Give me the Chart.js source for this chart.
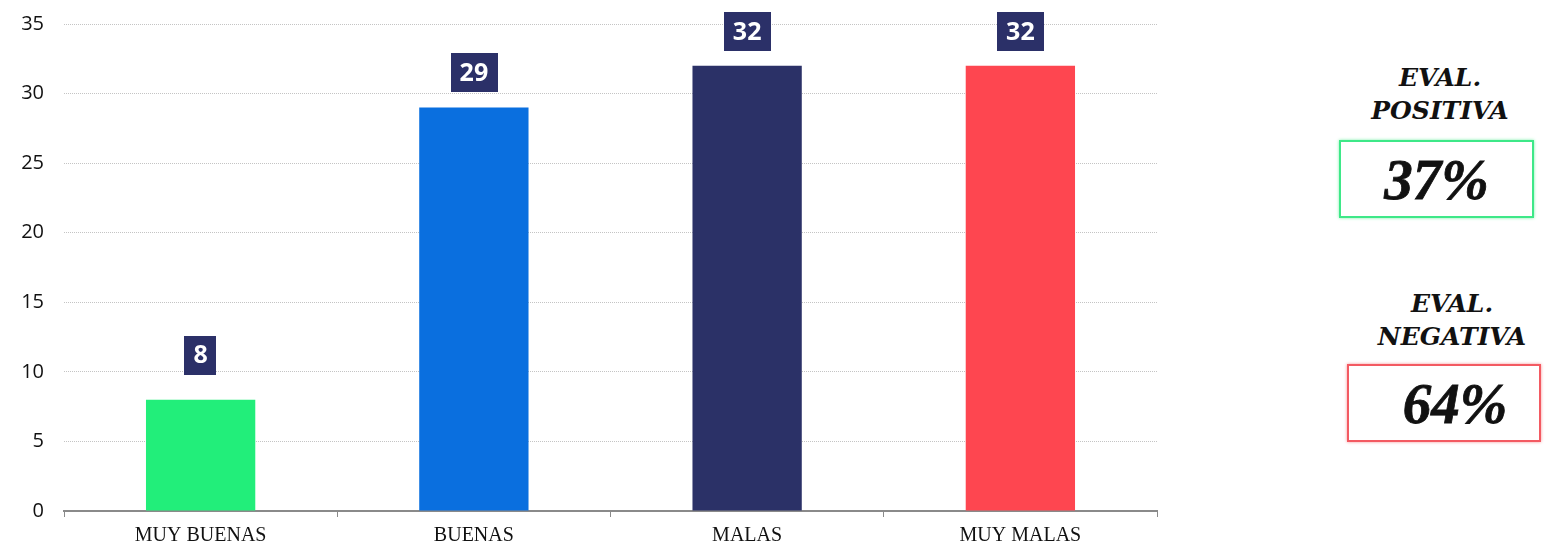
<!DOCTYPE html>
<html>
<head>
<meta charset="utf-8">
<script src="https://cdn.jsdelivr.net/npm/chart.js@4/dist/chart.umd.min.js"></script>
<style>
  html, body { margin: 0; padding: 0; background: #fff; width: 1548px; height: 545px; overflow: hidden; }
  #wrap { position: absolute; left: 0; top: 0; width: 1175px; height: 545px; }
  .ttl { position: absolute; font-family: "DejaVu Serif", serif; font-weight: bold; font-style: italic;
         font-size: 25px; line-height: 33px; text-align: center; color: #111; }
  .box { position: absolute; box-sizing: border-box; background: #fff; text-align: center;
         font-family: "Liberation Serif", serif; font-weight: bold; font-style: italic; font-size: 57px; color: #111;
         -webkit-text-stroke: 0.8px #111; }
  #pos-t { left: 1340px; top: 61px; width: 200px; }
  #pos-b { left: 1339px; top: 140px; width: 195px; height: 78px; border: 2px solid #3ee888; box-shadow: 0 0 3px #7ff0aa; line-height: 76px; }
  #neg-t { left: 1352px; top: 287px; width: 200px; }
  #neg-b { left: 1347px; top: 364px; width: 194px; height: 78px; border: 2px solid #f35a62; box-shadow: 0 0 3px #f7959a; line-height: 76px; padding-left: 22px; }
</style>
</head>
<body>
<div id="wrap"><canvas id="c"></canvas></div>
<div class="ttl" id="pos-t">EVAL.<br>POSITIVA</div>
<div class="box" id="pos-b"><span id="pos-v"></span></div>
<div class="ttl" id="neg-t">EVAL.<br>NEGATIVA</div>
<div class="box" id="neg-b"><span id="neg-v"></span></div>
<script>
const categories = ["MUY BUENAS", "BUENAS", "MALAS", "MUY MALAS"];
const values = [8, 29, 32, 32];
const barColors = ["#22ee7a", "#0a6fdf", "#2b3167", "#fe4650"];
const yTicks = [0, 5, 10, 15, 20, 25, 30, 35];
const summaryLabels = ["37%", "64%"];

document.getElementById("pos-v").textContent = summaryLabels[0];
document.getElementById("neg-v").textContent = summaryLabels[1];

const valueBoxes = {
  id: "valueBoxes",
  afterDatasetsDraw(chart) {
    const ctx = chart.ctx;
    const meta = chart.getDatasetMeta(0);
    ctx.save();
    ctx.font = "bold 25px 'Open Sans', sans-serif";
    ctx.textAlign = "center";
    ctx.textBaseline = "middle";
    meta.data.forEach((bar, i) => {
      const txt = String(chart.data.datasets[0].data[i]);
      const w = ctx.measureText(txt).width + 18;
      const h = 39;
      const cy = bar.y - 48 + 0.032 * (bar.base - bar.y);
      ctx.fillStyle = "#2b3068";
      ctx.fillRect(Math.round(bar.x - w / 2), Math.round(cy - h / 2), Math.round(w), h);
      ctx.fillStyle = "#ffffff";
      ctx.fillText(txt, bar.x, cy + 1);
    });
    ctx.restore();
  }
};

new Chart(document.getElementById("c"), {
  type: "bar",
  data: {
    labels: categories,
    datasets: [{ data: values, backgroundColor: barColors, barPercentage: 0.4, categoryPercentage: 1.0 }]
  },
  options: {
    responsive: true,
    maintainAspectRatio: false,
    animation: false,
    layout: { padding: { top: 24, right: 18, left: 0, bottom: 0 } },
    plugins: { legend: { display: false }, tooltip: { enabled: false } },
    scales: {
      x: {
        offset: true,
        afterFit(s) { s.height = 34; s.paddingLeft = 0; s.paddingRight = 0; },
        grid: { offset: true, drawOnChartArea: false, drawTicks: true, tickLength: 6, color: "#8a8a8a", lineWidth: 1 },
        border: { display: true, color: "#8a8a8a", width: 2 },
        ticks: { color: "#111", font: { family: "'Liberation Serif', serif", size: 20 }, padding: 7 }
      },
      y: {
        min: 0, max: 35,
        afterBuildTicks(axis) { axis.ticks = yTicks.map(v => ({ value: v })); },
        afterFit(s) { s.width = 64; s.paddingTop = 0; s.paddingBottom = 0; },
        grid: { drawTicks: false, color: "#c4c4c4", lineWidth: 1 },
        border: { display: false, dash: [1, 1] },
        ticks: { color: "#111", font: { family: "'Open Sans', sans-serif", size: 20 }, padding: 20 }
      }
    }
  },
  plugins: [valueBoxes]
});
</script>
</body>
</html>
